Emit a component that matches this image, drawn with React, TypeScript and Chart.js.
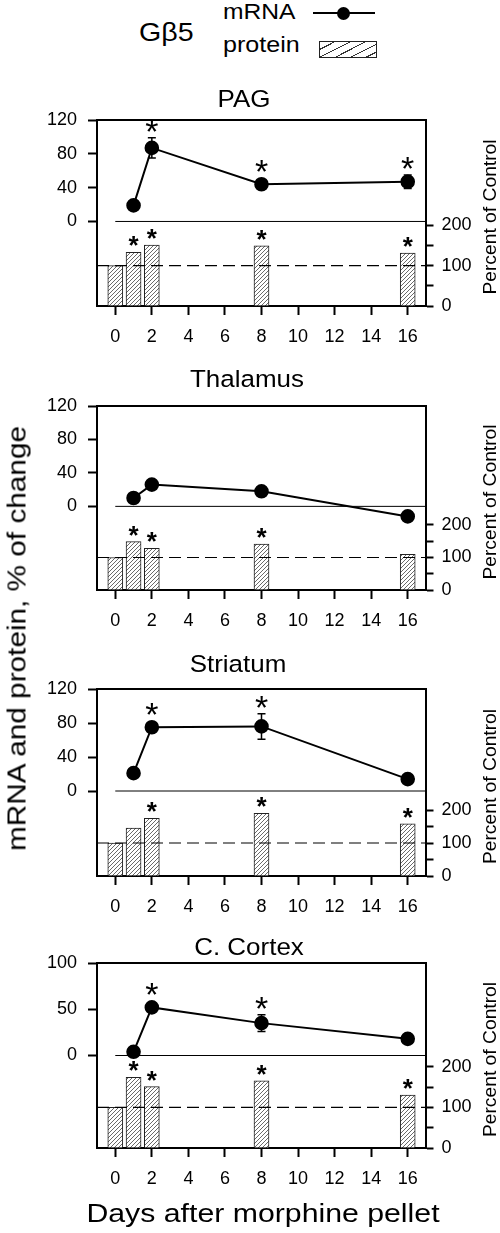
import React, { useEffect, useRef } from "react";
import { Chart, registerables } from "chart.js";

Chart.register(...registerables);

const FONT = '"Liberation Sans", Arial, Helvetica, sans-serif';

// ---------- data ----------
const proteinDays = [0, 1, 2, 8, 16];
const mrnaDays = [1, 2, 8, 16];
const xTickValues = [0, 2, 4, 6, 8, 10, 12, 14, 16];
const rightTickValues = [0, 50, 100, 150, 200];
const rightLabelledTicks = [0, 100, 200];
const leftTicks120 = [0, 40, 80, 120];
const leftTicks100 = [0, 50, 100];
const controlLevel = 100;
const X_MIN = -1;
const X_MAX = 17;
const LEFT_MIN = -100;

const panelTitles = ["PAG", "Thalamus", "Striatum", "C. Cortex"];
const leftAxisMax = [120, 120, 120, 100];
const rightAxisMax = [461, 566, 567, 455];

const pagMrna = [19, 87, 44, 47];
const pagMrnaErr = [2, 12, 3, 8];
const pagMrnaSig = [false, true, true, true];
const pagProtein = [100, 133, 151, 149, 131];
const pagProteinSig = [false, true, true, true, true];

const thalMrna = [10, 26, 18, -12];
const thalMrnaErr = [3, 3, 3, 3];
const thalMrnaSig = [false, false, false, false];
const thalProtein = [100, 149, 128, 141, 110];
const thalProteinSig = [false, true, true, true, false];

const strMrna = [21, 75, 76, 14];
const strMrnaErr = [2, 3, 15, 3];
const strMrnaSig = [false, true, true, false];
const strProtein = [100, 145, 175, 190, 158];
const strProteinSig = [false, false, true, true, true];

const ctxMrna = [4, 52, 35, 18];
const ctxMrnaErr = [2, 3, 9, 3];
const ctxMrnaSig = [false, true, true, false];
const ctxProtein = [100, 174, 151, 165, 130];
const ctxProteinSig = [false, true, true, true, true];

const PANELS = [
  { title: panelTitles[0], mrna: pagMrna, err: pagMrnaErr, mSig: pagMrnaSig, protein: pagProtein, pSig: pagProteinSig, leftTicks: leftTicks120, leftMax: leftAxisMax[0], rightMax: rightAxisMax[0] },
  { title: panelTitles[1], mrna: thalMrna, err: thalMrnaErr, mSig: thalMrnaSig, protein: thalProtein, pSig: thalProteinSig, leftTicks: leftTicks120, leftMax: leftAxisMax[1], rightMax: rightAxisMax[1] },
  { title: panelTitles[2], mrna: strMrna, err: strMrnaErr, mSig: strMrnaSig, protein: strProtein, pSig: strProteinSig, leftTicks: leftTicks120, leftMax: leftAxisMax[2], rightMax: rightAxisMax[2] },
  { title: panelTitles[3], mrna: ctxMrna, err: ctxMrnaErr, mSig: ctxMrnaSig, protein: ctxProtein, pSig: ctxProteinSig, leftTicks: leftTicks100, leftMax: leftAxisMax[3], rightMax: rightAxisMax[3] },
];

// ---------- layout (page pixels) ----------
const LAYOUT = [
  { top: 120, bottom: 306, titleX: 244, titleY: 100 },
  { top: 406, bottom: 590, titleX: 247, titleY: 380 },
  { top: 689, bottom: 876, titleX: 238, titleY: 665 },
  { top: 963, bottom: 1148, titleX: 249, titleY: 948 },
];
const PAD_TOP = 45;
const X_AXIS_H = 45;
const LEFT_W = 97;
const RIGHT_W = 74;
const CANVAS_W = 500;

function makeHatch(ctx: CanvasRenderingContext2D) {
  const c = document.createElement("canvas");
  c.width = 4;
  c.height = 4;
  const g = c.getContext("2d")!;
  g.fillStyle = "#fff";
  g.fillRect(0, 0, 4, 4);
  g.strokeStyle = "#6a6a6a";
  g.lineWidth = 1;
  g.beginPath();
  g.moveTo(-1, 5);
  g.lineTo(5, -1);
  g.moveTo(-1, 1);
  g.lineTo(1, -1);
  g.moveTo(3, 5);
  g.lineTo(5, 3);
  g.stroke();
  return ctx.createPattern(c, "repeat");
}

function Panel({ index }: { index: number }) {
  const ref = useRef<HTMLCanvasElement>(null);
  const p = PANELS[index];
  const lay = LAYOUT[index];
  const height = PAD_TOP + (lay.bottom - lay.top) + X_AXIS_H;
  const canvasTop = lay.top - PAD_TOP;

  useEffect(() => {
    const canvas = ref.current!;
    const ctx2 = canvas.getContext("2d")!;
    const hatch = makeHatch(ctx2);

    const decor = {
      id: "decor" + index,
      afterDatasetsDraw(chart: any) {
        const { ctx, chartArea: a, scales } = chart;
        const xs = scales.x;
        const yl = scales.yL;
        const yr = scales.yR;
        ctx.save();
        ctx.strokeStyle = "#000";
        ctx.fillStyle = "#000";
        // error bars
        ctx.lineWidth = 1.5;
        p.mrna.forEach((v: number, i: number) => {
          const e = p.err[i];
          if (!e) return;
          const x = xs.getPixelForValue(mrnaDays[i]);
          const y1 = yl.getPixelForValue(v + e);
          const y2 = yl.getPixelForValue(v - e);
          ctx.beginPath();
          ctx.moveTo(x, y1);
          ctx.lineTo(x, y2);
          ctx.moveTo(x - 4, y1);
          ctx.lineTo(x + 4, y1);
          ctx.moveTo(x - 4, y2);
          ctx.lineTo(x + 4, y2);
          ctx.stroke();
        });
        const drawStar = (x: number, cy: number, font: string) => {
          ctx.font = font;
          ctx.textAlign = "center";
          ctx.textBaseline = "alphabetic";
          const m = ctx.measureText("*");
          const y = cy + (m.actualBoundingBoxAscent - m.actualBoundingBoxDescent) / 2;
          ctx.fillText("*", x, y);
        };
        p.mrna.forEach((v: number, i: number) => {
          if (!p.mSig[i]) return;
          const x = xs.getPixelForValue(mrnaDays[i]);
          const py = yl.getPixelForValue(v);
          const et = yl.getPixelForValue(v + p.err[i]);
          drawStar(x, Math.min(py - 6, et) - 12, `34px ${FONT}`);
        });
        p.protein.forEach((v: number, i: number) => {
          if (!p.pSig[i]) return;
          const x = xs.getPixelForValue(proteinDays[i]);
          const ty = yr.getPixelForValue(v);
          drawStar(x, ty - 11, `bold 26px ${FONT}`);
        });
        // top border of the frame
        ctx.lineWidth = 2;
        ctx.beginPath();
        ctx.moveTo(a.left - 1, a.top);
        ctx.lineTo(a.right + 1, a.top);
        ctx.stroke();
        // right axis title
        ctx.save();
        ctx.translate(491, (a.top + a.bottom) / 2 + 4);
        ctx.rotate(-Math.PI / 2);
        ctx.scale(1.07, 1);
        ctx.font = `18px ${FONT}`;
        ctx.textAlign = "center";
        ctx.textBaseline = "middle";
        ctx.fillText("Percent of Control", 0, 0);
        ctx.restore();
        // panel title
        ctx.save();
        ctx.translate(lay.titleX, a.top - (lay.top - lay.titleY));
        ctx.scale(1.06, 1);
        ctx.font = `24.5px ${FONT}`;
        ctx.textAlign = "center";
        ctx.textBaseline = "middle";
        ctx.fillText(p.title, 0, 0);
        ctx.restore();
        ctx.restore();
      },
    };

    const tickFont = { family: FONT, size: 18 };
    const chart = new Chart(canvas, {
      type: "bar",
      data: {
        datasets: [
          {
            type: "bar",
            label: "protein",
            data: proteinDays.map((d, i) => ({ x: d, y: p.protein[i] })),
            yAxisID: "yR",
            backgroundColor: hatch as any,
            borderColor: "#222",
            borderWidth: 1,
            barThickness: 15,
            order: 4,
          } as any,
          {
            type: "line",
            label: "control",
            data: [
              { x: X_MIN, y: controlLevel },
              { x: X_MAX, y: controlLevel },
            ],
            yAxisID: "yR",
            borderColor: "#000",
            borderWidth: 1.2,
            borderDash: [12, 6],
            pointRadius: 0,
            order: 3,
          },
          {
            type: "line",
            label: "zero",
            data: [
              { x: 0, y: 0 },
              { x: X_MAX, y: 0 },
            ],
            yAxisID: "yL",
            borderColor: "#000",
            borderWidth: 1,
            pointRadius: 0,
            order: 2,
          },
          {
            type: "line",
            label: "mRNA",
            data: mrnaDays.map((d, i) => ({ x: d, y: p.mrna[i] })),
            yAxisID: "yL",
            borderColor: "#000",
            borderWidth: 2,
            pointRadius: 6.3,
            pointBackgroundColor: "#000",
            pointBorderColor: "#000",
            tension: 0,
            order: 1,
          },
        ],
      },
      options: {
        responsive: false,
        animation: false,
        events: [],
        layout: { padding: { top: PAD_TOP, bottom: 0, left: 0, right: 0 } },
        plugins: {
          legend: { display: false },
          tooltip: { enabled: false },
          title: { display: false },
        },
        scales: {
          x: {
            type: "linear",
            min: X_MIN,
            max: X_MAX,
            offset: false,
            afterBuildTicks: (s: any) => {
              s.ticks = xTickValues.map((v) => ({ value: v }));
            },
            afterFit: (s: any) => {
              s.height = X_AXIS_H;
            },
            grid: {
              display: true,
              drawOnChartArea: false,
              drawTicks: true,
              tickLength: 9,
              tickWidth: 2,
              color: "#000",
              offset: false,
            },
            border: { display: true, color: "#000", width: 2 },
            ticks: {
              color: "#000",
              font: tickFont,
              padding: 11,
              maxRotation: 0,
              autoSkip: false,
              callback: (v: any) => String(v),
            },
          },
          yL: {
            type: "linear",
            position: "left",
            min: LEFT_MIN,
            max: p.leftMax,
            afterBuildTicks: (s: any) => {
              s.ticks = p.leftTicks.map((v) => ({ value: v }));
            },
            afterFit: (s: any) => {
              s.width = LEFT_W;
            },
            grid: {
              display: true,
              drawOnChartArea: false,
              drawTicks: true,
              tickLength: 9,
              tickWidth: 2,
              color: "#000",
            },
            border: { display: true, color: "#000", width: 2 },
            ticks: {
              color: "#000",
              font: tickFont,
              padding: 11,
              autoSkip: false,
              callback: (v: any) => String(v),
            },
          },
          yR: {
            type: "linear",
            position: "right",
            min: 0,
            max: p.rightMax,
            afterBuildTicks: (s: any) => {
              s.ticks = rightTickValues.map((v) => ({ value: v }));
            },
            afterFit: (s: any) => {
              s.width = RIGHT_W;
            },
            grid: {
              display: true,
              drawOnChartArea: false,
              drawTicks: true,
              tickLength: 7.5,
              tickWidth: 2,
              color: "#000",
            },
            border: { display: true, color: "#000", width: 2 },
            ticks: {
              color: "#000",
              font: tickFont,
              padding: 8,
              autoSkip: false,
              callback: (v: any) => (rightLabelledTicks.includes(Number(v)) ? String(v) : ""),
            },
          },
        },
      } as any,
      plugins: [decor],
    });
    return () => chart.destroy();
  }, [index]);

  return (
    <canvas
      ref={ref}
      width={CANVAS_W}
      height={height}
      style={{ position: "absolute", left: 0, top: canvasTop, width: CANVAS_W, height }}
    />
  );
}

export default function App() {
  const text = (extra: React.CSSProperties): React.CSSProperties => ({
    position: "absolute",
    fontFamily: FONT,
    color: "#000",
    whiteSpace: "nowrap",
    ...extra,
  });
  return (
    <div
      style={{
        position: "absolute",
        left: 0,
        top: 0,
        width: 500,
        height: 1233,
        background: "#fff",
        overflow: "hidden",
      }}
    >
      {/* legend */}
      <div style={text({ left: 139, top: 19, fontSize: 26, lineHeight: "26px", transform: "scaleX(1.1)", transformOrigin: "left center" })}>
        Gβ5
      </div>
      <div style={text({ left: 223, top: 1, fontSize: 22, lineHeight: "22px", transform: "scaleX(1.12)", transformOrigin: "left center" })}>
        mRNA
      </div>
      <div style={text({ left: 223, top: 34, fontSize: 22, lineHeight: "22px", transform: "scaleX(1.14)", transformOrigin: "left center" })}>
        protein
      </div>
      <div style={{ position: "absolute", left: 313, top: 12, width: 62, height: 2, background: "#000" }} />
      <div style={{ position: "absolute", left: 337, top: 6.5, width: 13, height: 13, borderRadius: "50%", background: "#000" }} />
      <div
        style={{
          position: "absolute",
          left: 319,
          top: 41,
          width: 56,
          height: 15,
          border: "1px solid #222",
          background: "repeating-linear-gradient(153deg, #fff 0px, #fff 6px, #333 6px, #333 7px)",
        }}
      />

      {PANELS.map((_, i) => (
        <Panel key={i} index={i} />
      ))}

      {/* shared axis titles */}
      <div
        style={text({
          left: 16.5 - 300,
          top: 638 - 12.5,
          width: 600,
          height: 25,
          fontSize: 25,
          lineHeight: "25px",
          textAlign: "center",
          transform: "rotate(-90deg) scaleX(1.19)",
        })}
      >
        mRNA and protein, % of change
      </div>
      <div
        style={text({
          left: 263 - 250,
          top: 1213 - 12.5,
          width: 500,
          height: 25,
          fontSize: 25,
          lineHeight: "25px",
          textAlign: "center",
          transform: "scaleX(1.21)",
        })}
      >
        Days after morphine pellet
      </div>
    </div>
  );
}
